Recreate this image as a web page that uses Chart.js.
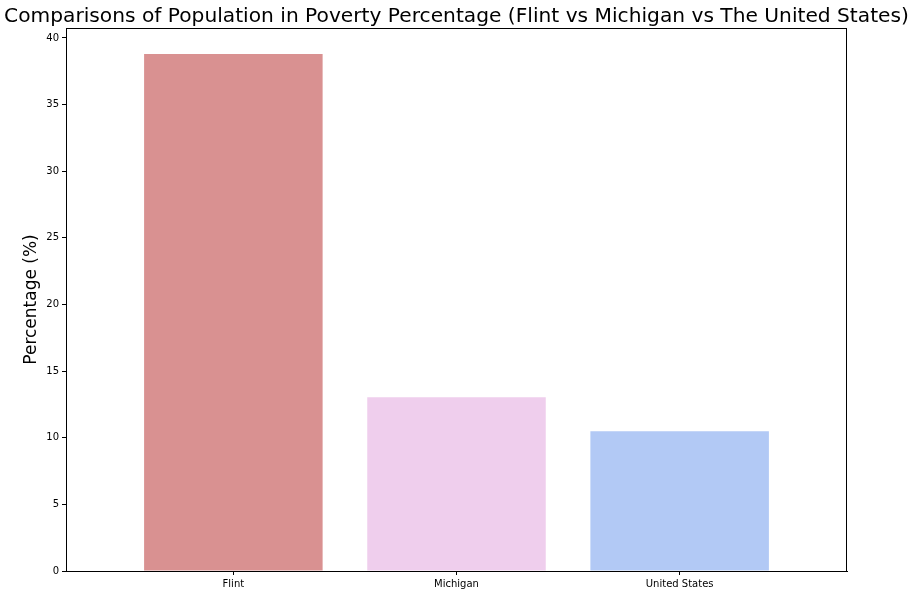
<!DOCTYPE html>
<html>
<head>
<meta charset="utf-8">
<script src="https://cdn.jsdelivr.net/npm/chart.js@4/dist/chart.umd.min.js"></script>
<style>
html,body{margin:0;padding:0;background:#fff;}
#wrap{width:913px;height:595px;position:relative;}
</style>
</head>
<body>
<div id="wrap"><canvas id="c" width="913" height="595"></canvas></div>
<script>
const categories = ['Flint', 'Michigan', 'United States'];
const values = [38.8, 13.03, 10.48];
const colors = ['#d99191', '#efceed', '#b2c9f5'];
const yTicks = [0, 5, 10, 15, 20, 25, 30, 35, 40];
const titleText = 'Comparisons of Population in Poverty Percentage (Flint vs Michigan vs The United States)';
const yLabel = 'Percentage (%)';

const FONT = "'DejaVu Sans', sans-serif";

const framePlugin = {
  id: 'frame',
  afterDatasetsDraw(chart) {
    const {ctx, chartArea: a} = chart;
    ctx.save();
    ctx.strokeStyle = '#000';
    ctx.lineWidth = 1;
    ctx.strokeRect(Math.round(a.left) + 0.5, Math.round(a.top) + 0.5,
                   Math.round(a.right - a.left) - 1, Math.round(a.bottom - a.top));
    ctx.restore();
  }
};

const titlePlugin = {
  id: 'ttl',
  afterDraw(chart) {
    const {ctx, chartArea: a} = chart;
    ctx.save();
    ctx.fillStyle = '#000';
    ctx.font = '20.2px ' + FONT;
    ctx.textAlign = 'center';
    ctx.textBaseline = 'alphabetic';
    ctx.fillText(titleText, (a.left + a.right) / 2, 22);
    ctx.restore();
  }
};

new Chart(document.getElementById('c'), {
  type: 'bar',
  data: {
    datasets: [{
      data: categories.map((c, i) => ({x: i, y: values[i]})),
      backgroundColor: colors,
      borderWidth: 0,
      barPercentage: 0.8,
      categoryPercentage: 1.0
    }]
  },
  plugins: [framePlugin, titlePlugin],
  options: {
    responsive: false,
    animation: false,
    devicePixelRatio: 1,
    layout: {padding: {top: 28, right: 66, left: 0, bottom: 0}},
    plugins: {legend: {display: false}, tooltip: {enabled: false}, title: {display: false}},
    scales: {
      x: {
        type: 'linear',
        min: -0.75,
        max: 2.75,
        offset: false,
        afterBuildTicks(scale) { scale.ticks = categories.map((c, i) => ({value: i})); },
        afterFit(scale) { scale.height = 24; },
        grid: {display: true, offset: false, drawOnChartArea: false, tickLength: 4, tickColor: '#000', tickWidth: 1},
        border: {display: true, color: '#000', width: 1},
        ticks: {
          color: '#000', font: {family: FONT, size: 10}, padding: 3, maxRotation: 0, autoSkip: false,
          callback: (v) => categories[v] !== undefined ? categories[v] : ''
        }
      },
      y: {
        min: 0,
        max: 40.75,
        afterBuildTicks(scale) { scale.ticks = yTicks.map(v => ({value: v})); },
        afterFit(scale) { scale.width = 66; },
        grid: {display: true, drawOnChartArea: false, tickLength: 4, tickColor: '#000', tickWidth: 1},
        border: {display: true, color: '#000', width: 1},
        ticks: {color: '#000', font: {family: FONT, size: 10}, padding: 3},
        title: {display: true, text: yLabel, color: '#000', font: {family: FONT, size: 17}, padding: {top: 21, bottom: 0}}
      }
    }
  }
});
</script>
</body>
</html>
